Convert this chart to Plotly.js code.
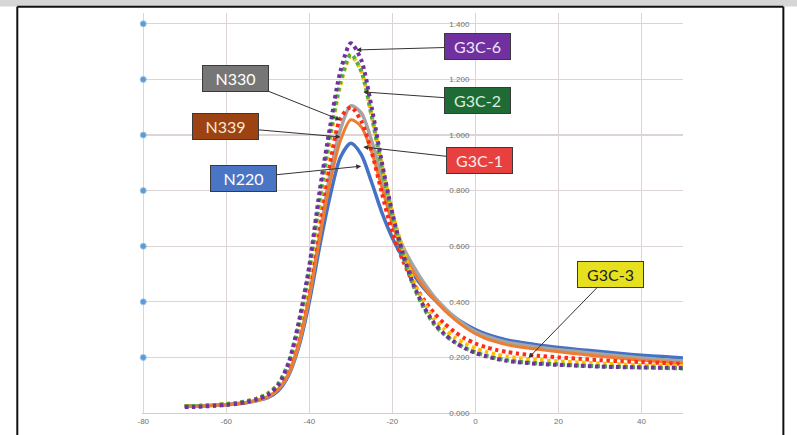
<!DOCTYPE html>
<html>
<head>
<meta charset="utf-8">
<script src="https://cdn.plot.ly/plotly-3.0.1.min.js"></script>
<style>
  html, body { margin: 0; padding: 0; background: #ffffff; }
  #chart { width: 797px; height: 435px; }
</style>
</head>
<body>
<div id="chart"></div>
<script>
// Temperature axis (shared by all series)
const temps = [-70,-67.5,-65,-62.5,-60,-57.5,-55,-52.5,-50,-47.5,-45,-42.5,-40,-37.5,-35,-32.5,-30,-27.5,-25,-22.5,-20,-17.5,-15,-12.5,-10,-7.5,-5,-2.5,0,2.5,5,7.5,10,15,20,25,30,35,40,45,50];

const n220 = [.025,.025,.026,.028,.03,.033,.038,.045,.055,.08,.135,.24,.40,.60,.78,.92,.97,.93,.83,.72,.63,.56,.50,.45,.41,.375,.345,.32,.30,.285,.273,.263,.256,.245,.236,.228,.221,.214,.208,.203,.198];
const n330 = [.025,.025,.026,.028,.03,.033,.038,.046,.058,.085,.14,.25,.42,.64,.86,1.02,1.105,1.08,.98,.85,.70,.60,.53,.47,.42,.38,.345,.316,.293,.277,.265,.255,.248,.237,.228,.22,.212,.205,.198,.192,.187];
const n339 = [.025,.025,.026,.028,.03,.033,.038,.046,.058,.085,.14,.25,.42,.63,.83,.98,1.055,1.03,.94,.81,.68,.58,.51,.455,.41,.37,.337,.308,.285,.268,.256,.246,.239,.229,.22,.212,.204,.197,.19,.184,.179];
const g3c1 = [.025,.025,.027,.029,.032,.036,.042,.052,.068,.10,.17,.30,.48,.70,.90,1.06,1.10,1.05,.94,.79,.65,.55,.47,.41,.36,.322,.292,.268,.25,.237,.227,.22,.214,.206,.20,.195,.19,.186,.183,.18,.177];
const g3c2 = [.025,.025,.027,.029,.032,.036,.043,.053,.07,.105,.18,.32,.52,.77,1.0,1.19,1.29,1.23,1.07,.88,.71,.57,.46,.38,.32,.283,.255,.234,.218,.206,.197,.19,.185,.179,.175,.171,.168,.166,.164,.162,.16];
const g3c3 = [.025,.025,.027,.029,.032,.036,.043,.053,.07,.10,.175,.31,.50,.75,.98,1.18,1.285,1.23,1.07,.89,.72,.59,.48,.40,.34,.302,.272,.25,.233,.22,.21,.203,.198,.191,.186,.182,.178,.175,.172,.17,.168];
const g3c6 = [.022,.022,.024,.026,.029,.033,.04,.05,.065,.10,.18,.33,.53,.80,1.03,1.23,1.33,1.27,1.10,.90,.72,.575,.465,.385,.325,.285,.255,.233,.216,.204,.195,.188,.183,.177,.173,.17,.167,.165,.164,.163,.162];

// Stray marker column at the left edge of the plot
const edgeX = [-80,-80,-80,-80,-80,-80,-80];
const edgeY = [0.2,0.4,0.6,0.8,1.0,1.2,1.4];

const xTicks = [-80,-60,-40,-20,0,20,40];
const yTicks = [0,0.2,0.4,0.6,0.8,1.0,1.2,1.4];

// Label boxes: text, arrow head position, box position, colours
const labelNames = ['G3C-6','G3C-2','G3C-1','N330','N339','N220','G3C-3'];
const labelHeadX = [-28.7,-27.0,-27.0,-32.5,-32.5,-27.5,12.8];
const labelHeadY = [1.306,1.155,0.957,1.054,0.993,0.888,0.198];
const labelBoxX  = [0.4,0.4,1.0,-57.8,-60.2,-55.9,32.5];
const labelBoxY  = [1.318,1.126,0.910,1.205,1.029,0.845,0.50];
const labelFill  = ['#7030a0','#1e6b35','#e8403f','#767676','#9c4213','#4a74c4','#e6e01e'];
const labelText  = ['#efe6f6','#dcefdc','#fde9e9','#ffffff','#fbe7d2','#ffffff','#222222'];

function solid(name, y, color, w) {
  return {x: temps, y: y, name: name, type: 'scatter', mode: 'lines',
          line: {color: color, width: w, shape: 'spline', smoothing: 0.8}};
}
function dotted(name, y, color) {
  return {x: temps, y: y, name: name, type: 'scatter', mode: 'lines',
          line: {color: color, width: 4, dash: '3.5px,3.5px', shape: 'spline', smoothing: 0.8}};
}

const traces = [
  {x: edgeX, y: edgeY, type: 'scatter', mode: 'markers', name: 'edge',
   marker: {color: '#5b9bd5', size: 6, line: {color: '#9dc3e6', width: 1}}, cliponaxis: false},
  solid('N220', n220, '#4472c4', 3.5),
  solid('N330', n330, '#a5a5a5', 3.5),
  solid('N339', n339, '#ed7d31', 3),
  dotted('G3C-1', g3c1, '#ff2a1a'),
  dotted('G3C-3', g3c3, '#ffc000'),
  dotted('G3C-2', g3c2, '#4cb04a'),
  dotted('G3C-6', g3c6, '#7030a0')
];

const annotations = labelNames.map((t, i) => ({
  x: labelHeadX[i], y: labelHeadY[i], xref: 'x', yref: 'y',
  ax: labelBoxX[i], ay: labelBoxY[i], axref: 'x', ayref: 'y',
  text: t, showarrow: true, arrowhead: 2, arrowsize: 1, arrowwidth: 1, arrowcolor: '#333333',
  font: {family: 'Lato, "Open Sans", sans-serif', size: 16, color: labelText[i]},
  bgcolor: labelFill[i], bordercolor: '#3a3a3a', borderwidth: 1, borderpad: 2,
  width: 61, height: 21, align: 'center', valign: 'middle'
}));

const gridCol = '#ddd5d5';
const layout = {
  width: 797, height: 435,
  margin: {l: 142, r: 114, t: 13, b: 22, pad: 0},
  paper_bgcolor: '#ffffff', plot_bgcolor: '#ffffff',
  showlegend: false,
  xaxis: {
    range: [-80.3, 50], tickvals: xTicks, ticktext: xTicks.map(String),
    showgrid: true, gridcolor: gridCol, gridwidth: 1.2,
    zeroline: true, zerolinecolor: gridCol, zerolinewidth: 1.2,
    showline: true, linecolor: '#d4cfcf', linewidth: 1.2,
    ticks: '', tickfont: {family: '"Liberation Sans", Arial, sans-serif', size: 8, color: '#6f6f6f'}
  },
  yaxis: {
    range: [0, 1.439], tickvals: yTicks, tickformat: '.3f',
    anchor: 'free', position: (0 + 80.3) / 130.3, side: 'left',
    showgrid: true, gridcolor: gridCol, gridwidth: 1.2,
    zeroline: false, showline: false,
    ticks: '', ticklabelstandoff: 6,
    tickfont: {family: '"Liberation Sans", Arial, sans-serif', size: 8, color: '#6f6f6f'}
  },
  annotations: annotations,
  shapes: [
    {type: 'rect', xref: 'paper', yref: 'paper', x0: -0.3, x1: 1.3, y0: 1.016, y1: 1.04,
     fillcolor: '#d6d6d6', line: {width: 0}, layer: 'above'},
    {type: 'line', xref: 'paper', yref: 'paper', x0: -0.2305, x1: 1.1855, y0: 1.0155, y1: 1.0155,
     line: {color: '#111111', width: 2}},
    {type: 'line', xref: 'paper', yref: 'paper', x0: -0.2305, x1: -0.2305, y0: -0.1, y1: 1.0155,
     line: {color: '#111111', width: 2}},
    {type: 'line', xref: 'paper', yref: 'paper', x0: 1.1855, x1: 1.1855, y0: -0.1, y1: 1.0155,
     line: {color: '#111111', width: 2}}
  ]
};

Plotly.newPlot('chart', traces, layout, {displayModeBar: false, staticPlot: true});
</script>
</body>
</html>
